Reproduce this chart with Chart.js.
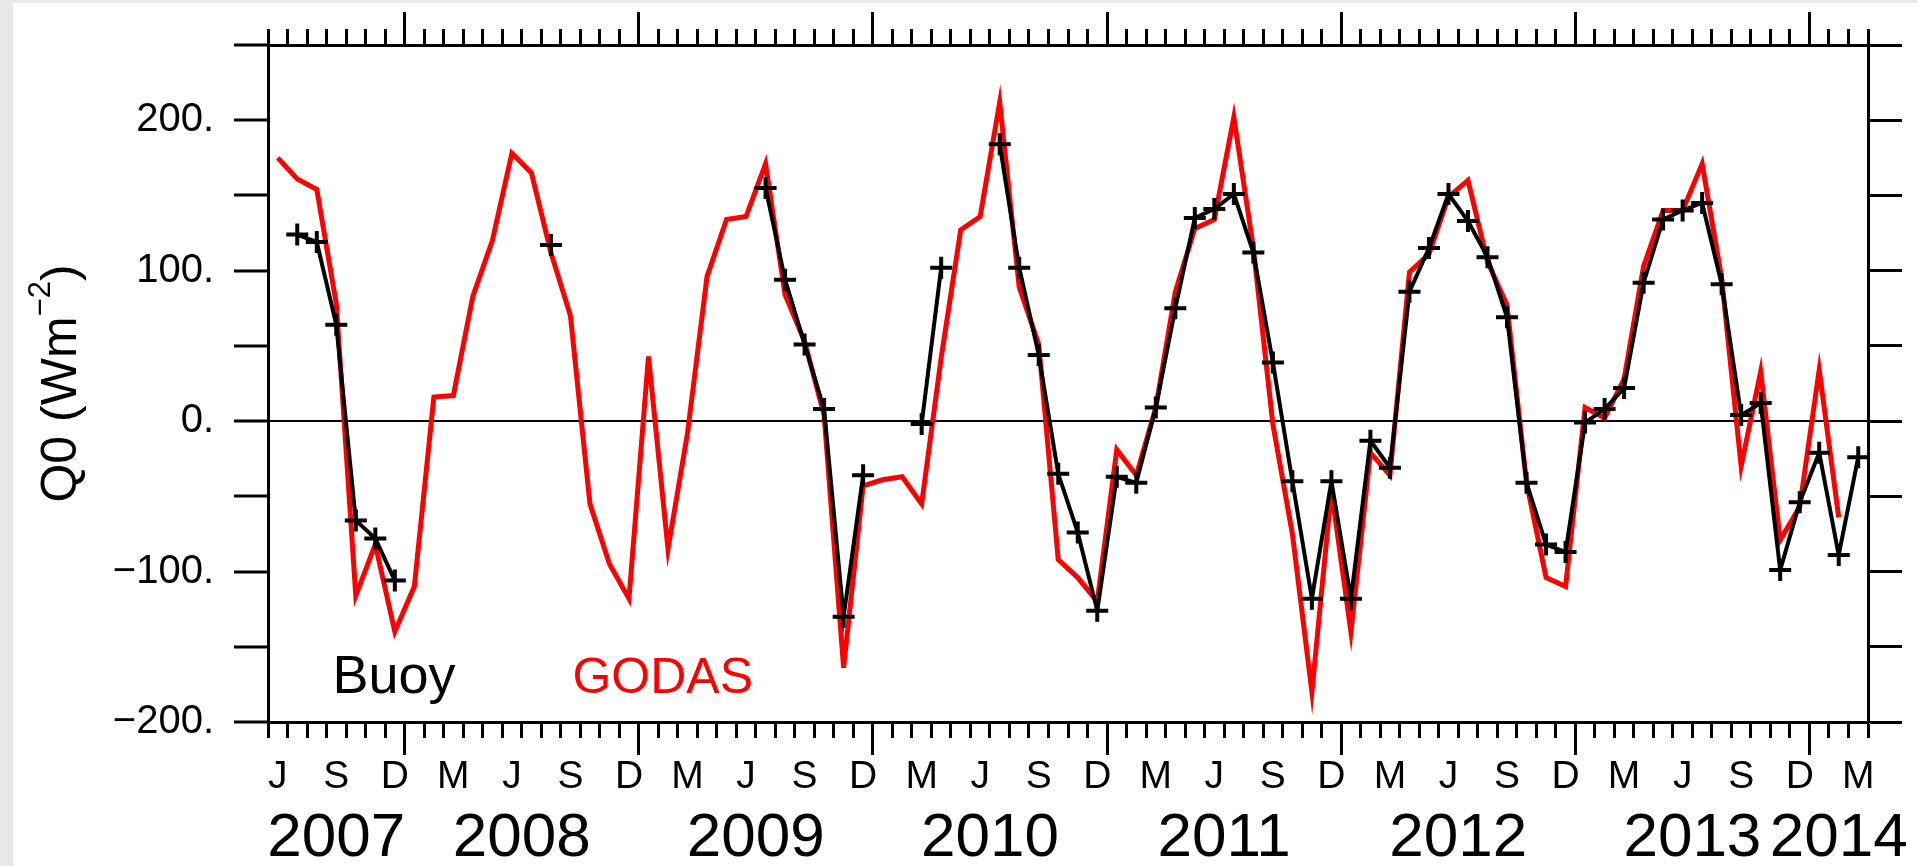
<!DOCTYPE html>
<html>
<head>
<meta charset="utf-8">
<script src="https://cdn.jsdelivr.net/npm/chart.js@4.4.1/dist/chart.umd.min.js"></script>
<style>
  html, body { margin: 0; padding: 0; background: #e9e9e9; overflow: hidden; }
  #paper { position: absolute; left: 13px; top: 3px; width: 1904px; height: 863px; background: #fff; }
  #qChart { position: absolute; left: 0; top: 0; }
</style>
</head>
<body>
<div id="paper"></div>
<canvas id="qChart" width="1917" height="866"></canvas>
<script>
// month index 0 = Jun 2007, values are monthly means plotted mid-month
const godas = [
  175, 161, 154, 78, -116, -82, -140, -110, 16, 17,
  83, 120, 178, 165, 112, 70, -55, -95, -118, 43,
  -85, -8, 96, 134, 136, 171, 84, 53, 4, -164,
  -43, -39, -37, -55, 42, 127, 136, 212, 89, 51,
  -92, -104, -120, -19, -36, 9, 86, 128, 134, 202,
  115, -2, -75, -180, -46, -140, -21, -36, 99, 111,
  149, 160, 106, 77, -41, -104, -110, 9, 2, 28,
  103, 140, 140, 171, 95, -30, 33, -79, -57, 34,
  -64
];
const buoy = [
  null, 124, 119, 64, -66, -78, -106, null, null, null,
  null, null, null, null, 117, null, null, null, null, null,
  null, null, null, null, null, 155, 94, 51, 8, -130,
  -36, null, null, -2, 102, null, null, 184, 102, 44,
  -35, -74, -126, -37, -41, 9, 75, 135, 141, 151,
  112, 39, -40, -118, -40, -118, -13, -31, 86, 115,
  151, 133, 109, 69, -41, -82, -87, -1, 8, 22,
  92, 134, 140, 145, 91, 4, 12, -99, -54, -21,
  -89, -24
];
const monthLetters = ["J", "S", "D", "M"];           // every third month from June
const yearLabels = ["2007", "2008", "2009", "2010", "2011", "2012", "2013", "2014"];
const yearCentres = [3.5, 13, 25, 37, 49, 61, 73, 80.5];
const yearStarts = [7, 19, 31, 43, 55, 67, 79];
const nMonths = 82;

const fontFamily = '"Liberation Sans", Arial, Helvetica, sans-serif';

const monthTicks = Array.from({ length: nMonths + 1 }, (_, i) => ({ value: i }));
const letterTicks = [];
for (let i = 0; i < nMonths; i += 3) {
    letterTicks.push({ value: i + 0.5, label: monthLetters[(i / 3) % 4] });
}
const yearTicks = yearCentres.map((v, i) => ({ value: v, label: yearLabels[i] }));

function fixSize(w, h) {
    return scale => {
        if (w !== null) scale.width = w;
        if (h !== null) scale.height = h;
        scale.paddingLeft = 0;
        scale.paddingRight = 0;
        scale.paddingTop = 0;
        scale.paddingBottom = 0;
    };
}

function monthAxis(position, ticks, tickLength, height, extra) {
    return Object.assign({
        type: "linear",
        position: position,
        min: 0,
        max: nMonths,
        afterBuildTicks: s => { s.ticks = ticks.map(t => ({ value: t.value })); },
        afterFit: fixSize(null, height),
        border: { display: false },
        grid: {
            drawOnChartArea: false,
            drawTicks: tickLength > 0,
            tickLength: tickLength,
            tickWidth: 3,
            tickColor: "#000"
        },
        ticks: { autoSkip: false, maxRotation: 0, callback: () => "" }
    }, extra || {});
}

// free text: series names and the y axis title
const annotate = {
    id: "annotate",
    afterDraw(chart) {
        const { ctx, scales: { x, y } } = chart;
        ctx.save();
        ctx.textBaseline = "alphabetic";
        ctx.textAlign = "left";
        ctx.font = "54px " + fontFamily;
        ctx.fillStyle = "#000";
        ctx.fillText("Buoy", x.getPixelForValue(3.3), y.getPixelForValue(-181));
        ctx.font = "50px " + fontFamily;
        ctx.fillStyle = "#f00";
        ctx.fillText("GODAS", x.getPixelForValue(15.6), y.getPixelForValue(-181));

        // Q0 (Wm^-2), rotated
        const big = 50, small = 31;
        ctx.fillStyle = "#000";
        const parts = [
            { t: "Q0 (Wm", size: big, rise: 0 },
            { t: "\u22122", size: small, rise: big * 0.52 },
            { t: ")", size: big, rise: 0 }
        ];
        let total = 0;
        parts.forEach(p => {
            ctx.font = p.size + "px " + fontFamily;
            p.w = ctx.measureText(p.t).width;
            total += p.w;
        });
        ctx.translate(76, (chart.chartArea.top + chart.chartArea.bottom) / 2);
        ctx.rotate(-Math.PI / 2);
        let pos = -total / 2;
        parts.forEach(p => {
            ctx.font = p.size + "px " + fontFamily;
            ctx.fillText(p.t, pos, -p.rise);
            pos += p.w;
        });
        ctx.restore();
    }
};

new Chart(document.getElementById("qChart"), {
    type: "line",
    data: {
        datasets: [
            {
                label: "Buoy",
                data: buoy.map((v, i) => ({ x: i + 0.5, y: v })),
                xAxisID: "x",
                yAxisID: "y",
                borderColor: "#000",
                borderWidth: 4,
                spanGaps: false,
                tension: 0,
                pointStyle: "cross",
                pointRadius: 11,
                pointBorderWidth: 4,
                pointBorderColor: "#000",
                pointBackgroundColor: "#000"
            },
            {
                label: "GODAS",
                data: godas.map((v, i) => ({ x: i + 0.5, y: v })),
                xAxisID: "x",
                yAxisID: "y",
                borderColor: "#f00",
                borderWidth: 5,
                tension: 0,
                pointRadius: 0
            }
        ]
    },
    options: {
        responsive: false,
        animation: false,
        devicePixelRatio: 1,
        events: [],
        layout: { padding: 0 },
        plugins: {
            legend: { display: false },
            tooltip: { enabled: false }
        },
        scales: {
            x: monthAxis("bottom", monthTicks, 16, 0, {
                border: { display: true, color: "#000", width: 3 }
            }),
            xMaj: monthAxis("bottom", yearStarts.map(v => ({ value: v })), 33, 0),
            // month letters, box tall enough so the labels are not clipped
            xMon: monthAxis("bottom", letterTicks, 0, 86, {
                ticks: {
                    autoSkip: false,
                    maxRotation: 0,
                    padding: 36,
                    color: "#000",
                    font: { family: fontFamily, size: 39, lineHeight: 1 },
                    callback: (v, i) => letterTicks[i].label
                }
            }),
            xYr: monthAxis("bottom", yearTicks, 0, 58, {
                ticks: {
                    autoSkip: false,
                    maxRotation: 0,
                    padding: 0,
                    color: "#000",
                    font: { family: fontFamily, size: 62, lineHeight: 1 },
                    callback: (v, i) => yearTicks[i].label
                }
            }),
            xTopMaj: monthAxis("top", yearStarts.map(v => ({ value: v })), 33, 0),
            xTop: monthAxis("top", monthTicks, 16, 45, {
                border: { display: true, color: "#000", width: 3 }
            }),
            y: {
                type: "linear",
                position: "left",
                min: -200,
                max: 250,
                afterFit: fixSize(268, null),
                border: { display: true, color: "#000", width: 3 },
                grid: {
                    drawOnChartArea: true,
                    color: c => c.tick && c.tick.value === 0 ? "#000" : "rgba(0,0,0,0)",
                    lineWidth: c => c.tick && c.tick.value === 0 ? 2 : 0,
                    tickColor: "#000",
                    tickWidth: 3,
                    tickLength: 34
                },
                ticks: {
                    stepSize: 50,
                    padding: 20,
                    color: "#000",
                    font: { family: fontFamily, size: 40 },
                    callback: v => (v % 100 === 0 && v <= 200)
                        ? (v < 0 ? "\u2212" + (-v) : String(v)) + "."
                        : ""
                }
            },
            y2: {
                type: "linear",
                position: "right",
                min: -200,
                max: 250,
                afterFit: fixSize(49, null),
                border: { display: true, color: "#000", width: 3 },
                grid: {
                    drawOnChartArea: false,
                    tickColor: "#000",
                    tickWidth: 3,
                    tickLength: 34
                },
                ticks: { stepSize: 50, callback: () => "" }
            }
        }
    },
    plugins: [annotate]
});
</script>
</body>
</html>
